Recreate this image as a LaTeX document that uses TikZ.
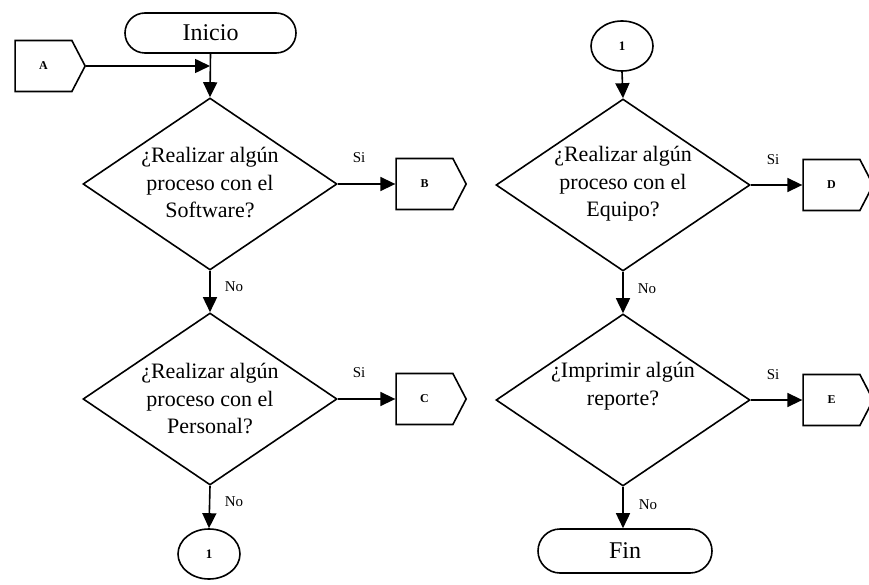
\documentclass[tikz,border=0pt]{standalone}
\usepackage{fontspec}
\setmainfont{Liberation Serif}
\usetikzlibrary{shapes.geometric,shapes.symbols,arrows.meta}

\tikzset{
  base/.style={draw, line width=1.6pt, inner sep=0pt},
  terminal/.style={base, rectangle, rounded corners=20pt, minimum height=40pt,
    font=\fontsize{24}{28}\selectfont},
  decision/.style={base, diamond, minimum width=254pt, minimum height=172pt},
  qtext/.style={align=center, inner sep=0pt, font=\fontsize{22}{27.5}\selectfont},
  offpage/.style={base, signal, signal to=east, signal from=nowhere,
    signal pointer angle=125, minimum width=70pt, minimum height=51pt,
    font=\fontsize{12}{14}\selectfont\bfseries},
  onpage/.style={base, ellipse, minimum width=62pt, minimum height=50pt,
    font=\fontsize{13}{15}\selectfont\bfseries},
  lbl/.style={inner sep=0pt, font=\fontsize{15}{17}\selectfont},
  arr/.style={line width=1.6pt, -{Triangle[length=15pt,width=14pt]}},
}

\begin{document}
\begin{tikzpicture}[x=1pt, y=-1pt]
\useasboundingbox (0,0) rectangle (869,585);

% left column
\node[terminal, minimum width=171pt] (inicio) at (210.5,33) {Inicio};
\node[offpage] (a) at (43.5,66) {A};
\coordinate (j) at (210,66);

\node[decision] (d1) at (210,184) {};
\node[qtext] (d1t) at (210,183) {¿Realizar algún\\proceso con el\\Software?};
\node[offpage] (b) at (424.5,184) {B};

\node[decision] (d2) at (210,399) {};
\node[qtext] (d2t) at (210,399) {¿Realizar algún\\proceso con el\\Personal?};
\node[offpage] (c) at (424.5,399) {C};

\node[onpage] (c1) at (209,554) {1};

% right column
\node[onpage] (c2) at (622,46) {1};

\node[decision] (d3) at (623,185) {};
\node[qtext] (d3t) at (623,184) {¿Realizar algún\\proceso con el\\Equipo?};
\node[offpage] (d) at (831.5,185) {D};

\node[decision] (d4) at (623,400) {};
\node[qtext] (d4t) at (623,386) {¿Imprimir algún\\reporte?};
\node[offpage] (e) at (831.5,400) {E};

\node[terminal, minimum width=174pt, minimum height=44pt, rounded corners=22pt] (fin) at (625,551) {Fin};

% branch labels
\node[lbl] (s1) at (359,158) {Si};
\node[lbl] (s2) at (359,373) {Si};
\node[lbl] (s3) at (773,160) {Si};
\node[lbl] (s4) at (773,375) {Si};
\node[lbl] (n1) at (234,287) {No};
\node[lbl] (n2) at (234,502) {No};
\node[lbl] (n3) at (647,289) {No};
\node[lbl] (n4) at (648,505) {No};

% connectors
\draw[arr] (a.east) -- (j);
\draw[arr] (inicio.south) -- (d1.north);
\draw[arr] (d1.east) -- (b.west);
\draw[arr] (d1.south) -- (d2.north);
\draw[arr] (d2.east) -- (c.west);
\draw[arr] (d2.south) -- (c1.north);
\draw[arr] (c2.south) -- (d3.north);
\draw[arr] (d3.east) -- (d.west);
\draw[arr] (d3.south) -- (d4.north);
\draw[arr] (d4.east) -- (e.west);
\draw[arr] (d4.south) -- (d4.south |- fin.north);
\end{tikzpicture}
\end{document}
